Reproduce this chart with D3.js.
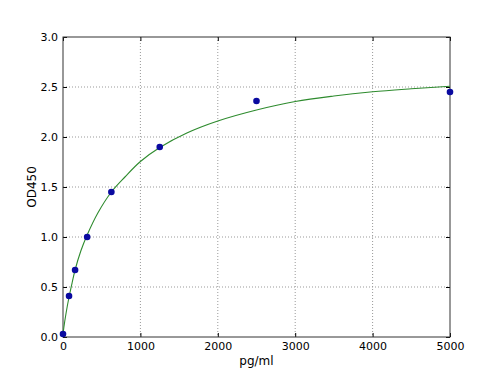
<!DOCTYPE html>
<html><head><meta charset="utf-8">
<script src="https://cdn.jsdelivr.net/npm/d3@7"></script>
<style>body{margin:0;background:#fff}svg{display:block}text{font-family:"DejaVu Sans",sans-serif}</style>
</head><body><svg id="c" width="500" height="375"></svg>
<script>
const pointX = [0, 78, 156, 312, 625, 1250, 2500, 5000];
const pointY = [0.03, 0.41, 0.67, 1.00, 1.45, 1.90, 2.36, 2.45];
const curveX = [0, 10, 40, 78, 120, 156, 230, 312, 450, 625, 800, 1000, 1250, 1600, 2000, 2500, 3000, 3500, 4000, 4500, 5000];
const curveY = [0.02, 0.09, 0.24, 0.40, 0.55, 0.67, 0.86, 1.02, 1.24, 1.45, 1.60, 1.755, 1.895, 2.04, 2.16, 2.27, 2.355, 2.41, 2.452, 2.482, 2.508];
const xTicks = [0, 1000, 2000, 3000, 4000, 5000];
const yTicks = [0.0, 0.5, 1.0, 1.5, 2.0, 2.5, 3.0];

const svg = d3.select("#c");
const L = 63, R = 450, T = 37, B = 337;
const x = d3.scaleLinear().domain([0, 5000]).range([L, R]);
const y = d3.scaleLinear().domain([0, 3]).range([B, T]);

// grid
svg.append("g").selectAll("line").data(xTicks.slice(1, -1)).join("line")
  .attr("x1", d => x(d)).attr("x2", d => x(d)).attr("y1", T).attr("y2", B)
  .attr("stroke", "#999").attr("stroke-dasharray", "1,2");
svg.append("g").selectAll("line").data(yTicks.slice(1, -1)).join("line")
  .attr("y1", d => y(d)).attr("y2", d => y(d)).attr("x1", L).attr("x2", R)
  .attr("stroke", "#999").attr("stroke-dasharray", "1,2");

// axes (inward ticks)
const fs = "11px";
const ax = (g) => g.selectAll("text").attr("fill", "#000").style("font-size", fs);
svg.append("g").attr("transform", `translate(0,${B})`)
  .call(d3.axisBottom(x).tickValues(xTicks).tickFormat(d3.format("d")).tickSizeInner(-4).tickSizeOuter(0).tickPadding(5))
  .call(g => { g.select(".domain").remove(); ax(g); g.selectAll("line").attr("stroke", "#000"); });
svg.append("g").attr("transform", `translate(0,${T})`)
  .call(d3.axisTop(x).tickValues(xTicks).tickSizeInner(-4).tickSizeOuter(0).tickFormat(""))
  .call(g => { g.select(".domain").remove(); g.selectAll("line").attr("stroke", "#000"); });
svg.append("g").attr("transform", `translate(${L},0)`)
  .call(d3.axisLeft(y).tickValues(yTicks).tickFormat(d3.format(".1f")).tickSizeInner(-4).tickSizeOuter(0).tickPadding(5))
  .call(g => { g.select(".domain").remove(); ax(g); g.selectAll("line").attr("stroke", "#000"); });
svg.append("g").attr("transform", `translate(${R},0)`)
  .call(d3.axisRight(y).tickValues(yTicks).tickSizeInner(-4).tickSizeOuter(0).tickFormat(""))
  .call(g => { g.select(".domain").remove(); g.selectAll("line").attr("stroke", "#000"); });

svg.append("rect").attr("x", L).attr("y", T).attr("width", R - L).attr("height", B - T)
  .attr("fill", "none").attr("stroke", "#333").attr("stroke-width", 1);

// curve
const cdata = curveX.map((v, i) => [v, curveY[i]]);
svg.append("path").datum(cdata)
  .attr("d", d3.line().x(d => x(d[0])).y(d => y(d[1])).curve(d3.curveCatmullRom.alpha(0.5)))
  .attr("fill", "none").attr("stroke", "#2e8b2e").attr("stroke-width", 1.1);

// points
svg.append("g").selectAll("circle").data(pointX.map((v, i) => [v, pointY[i]])).join("circle")
  .attr("cx", d => x(d[0])).attr("cy", d => y(d[1])).attr("r", 3.3).attr("fill", "#0a0aa0");

// labels
svg.append("text").attr("x", (L + R) / 2).attr("y", 365).attr("text-anchor", "middle")
  .style("font-size", "12px").text("pg/ml");
svg.append("text").attr("transform", `translate(36,${(T + B) / 2}) rotate(-90)`).attr("text-anchor", "middle")
  .style("font-size", "12px").text("OD450");
</script></body></html>
